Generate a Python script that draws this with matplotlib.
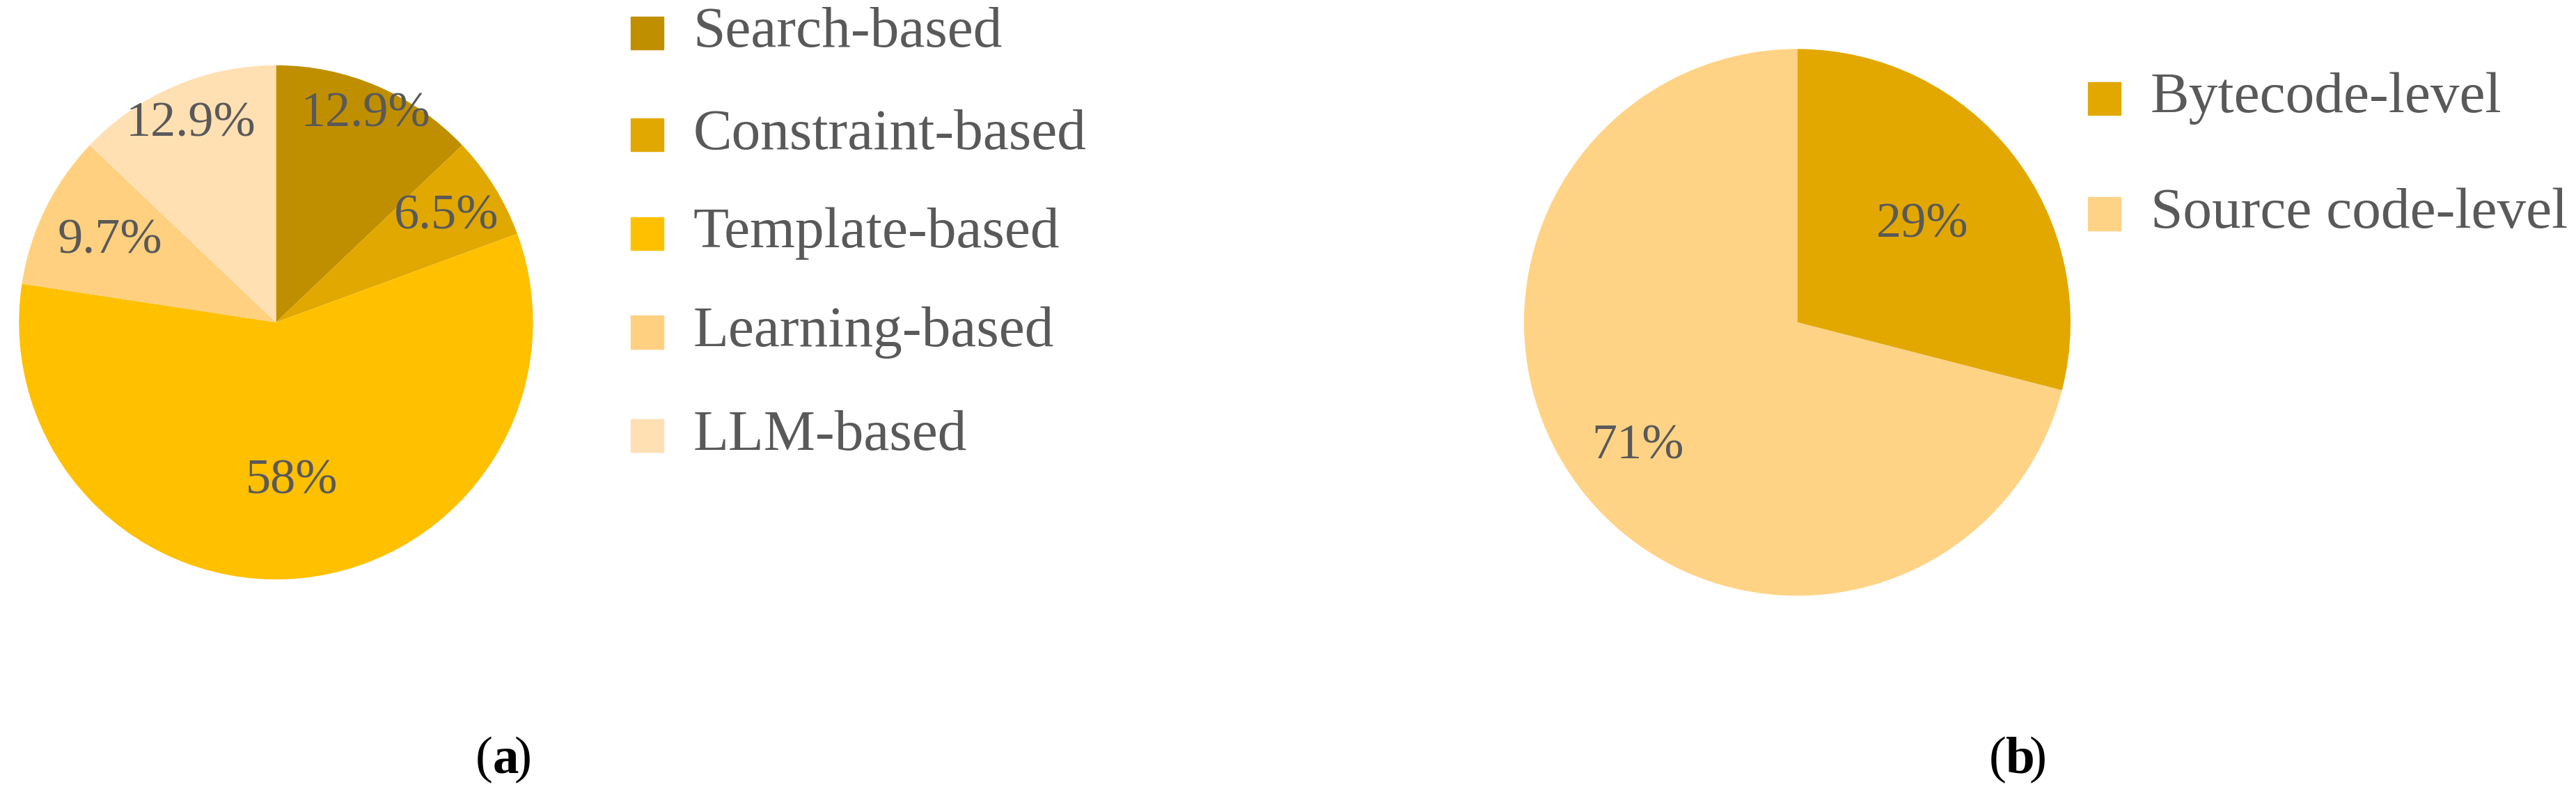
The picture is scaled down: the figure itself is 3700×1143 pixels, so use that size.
import numpy as np
import matplotlib.pyplot as plt
from matplotlib.patches import Rectangle

# data
cats_a = ["Search-based", "Constraint-based", "Template-based", "Learning-based", "LLM-based"]
vals_a = [12.9, 6.5, 58, 9.7, 12.9]
lbls_a = ["12.9%", "6.5%", "58%", "9.7%", "12.9%"]
cols_a = ["#BF8F00", "#E0A800", "#FFC000", "#FFD07F", "#FFE0B3"]

cats_b = ["Bytecode-level", "Source code-level"]
vals_b = [29, 71]
lbls_b = ["29%", "71%"]
cols_b = ["#E2A800", "#FFD385"]

W, H = 1568, 484  # reference coordinate frame
TXT = "#595959"
plt.rcParams["font.family"] = ["Liberation Serif", "DejaVu Serif"]

fig = plt.figure(figsize=(37, 11.43), dpi=100)


def pie_axes(cx, cy, r):
    return fig.add_axes([(cx - r) / W, 1 - (cy + r) / H, 2 * r / W, 2 * r / H])


def draw_pie(ax, vals, cols, lbls, dists):
    wedges, _ = ax.pie(vals, colors=cols, startangle=90, counterclock=False, radius=1,
                       wedgeprops=dict(linewidth=0))
    for w, lab, d in zip(wedges, lbls, dists):
        ang = np.deg2rad((w.theta1 + w.theta2) / 2)
        ax.text(d * np.cos(ang), d * np.sin(ang), lab, ha="center", va="center",
                fontsize=52, color=TXT)
    ax.set_xlim(-1.01, 1.01)
    ax.set_ylim(-1.01, 1.01)
    ax.set_aspect("equal")
    ax.axis("off")


def legend(x, ys, cats, cols):
    for y, c, col in zip(ys, cats, cols):
        s = 20
        fig.patches.append(Rectangle((x / W, 1 - (y + s / 2) / H), s / W, s / H,
                                     transform=fig.transFigure, color=col))
        fig.text((x + 38) / W, 1 - y / H, c, fontsize=60, color=TXT, va="center")


ax_a = pie_axes(168, 196, 158)
draw_pie(ax_a, vals_a, cols_a, lbls_a, [0.88, 0.78, 0.62, 0.72, 0.84])
legend(384, [20, 82, 142, 202, 265], cats_a, cols_a)

ax_b = pie_axes(1094, 196, 168)
draw_pie(ax_b, vals_b, cols_b, lbls_b, [0.58, 0.74])
legend(1271, [60, 130], cats_b, cols_b)

fig.text(300 / W, 1 - 462 / H, "(", fontsize=54, ha="right", va="center", color="black")
fig.text(300 / W, 1 - 462 / H, "a", fontsize=54, ha="left", va="center",
         weight="bold", color="black")
fig.text(313 / W, 1 - 462 / H, ")", fontsize=54, ha="left", va="center", color="black")
fig.text(1221 / W, 1 - 462 / H, "(", fontsize=54, ha="right", va="center", color="black")
fig.text(1221 / W, 1 - 462 / H, "b", fontsize=54, ha="left", va="center",
         weight="bold", color="black")
fig.text(1235 / W, 1 - 462 / H, ")", fontsize=54, ha="left", va="center", color="black")

fig.savefig("out.png", dpi=100, facecolor="white")
